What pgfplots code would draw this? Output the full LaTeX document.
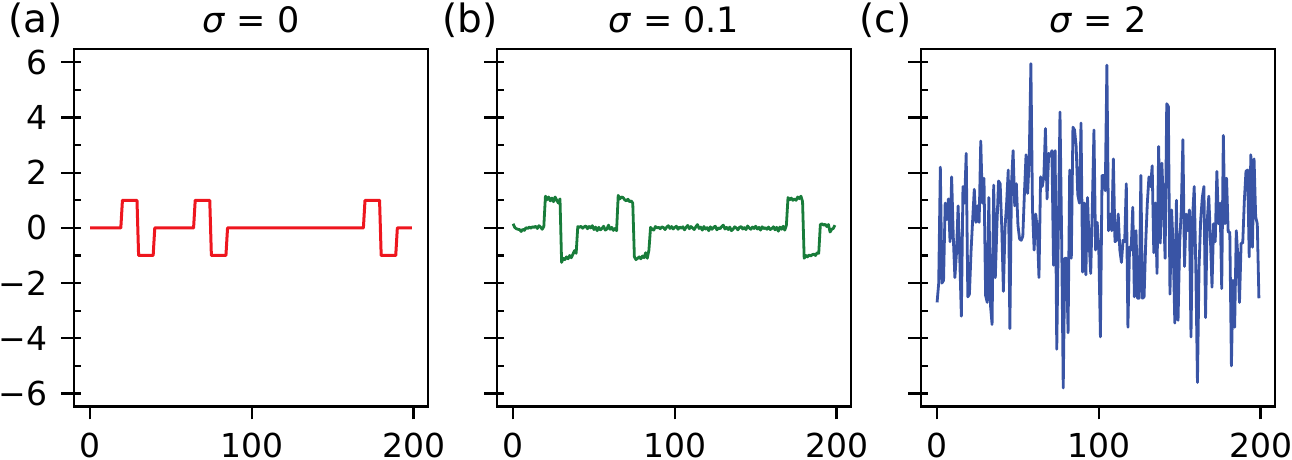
\documentclass[border=0pt]{standalone}
\usepackage{fontspec}
\setmainfont{DejaVu Sans}
\usepackage{pgfplots}
\pgfplotsset{compat=1.18}
\definecolor{cred}{RGB}{238,22,30}
\definecolor{cgreen}{RGB}{24,124,58}
\definecolor{cblue}{RGB}{57,84,165}
\pgfplotsset{
  panel/.style={
    scale only axis, width=177pt, height=178.8pt,
    xmin=-9.95, xmax=208.95, ymin=-6.48, ymax=6.48,
    axis line style={line width=1.2pt, black},
    tick pos=left, tick align=outside,
    major tick length=6.3pt,
    major tick style={line width=1.1pt, black},
    xtick={0,100,200}, xticklabels={0,100,200},
    ytick={-6,-4,-2,0,2,4,6},
    extra y ticks={-6,-5,-4,-3,-2,-1,0,1,2,3,4,5,6},
    extra y tick labels={},
    extra y tick style={tick align=inside, major tick length=3.6pt},
    tick label style={font=\fontsize{16.5pt}{16.5pt}\selectfont, inner sep=0pt},
    xticklabel style={yshift=-6.8pt},
    yticklabel style={xshift=-7pt},
    every axis plot/.append style={line width=1.5pt, line join=round},
  }
}
\begin{document}
\begin{tikzpicture}
\begin{axis}[panel, at={(37pt,26.65pt)}, anchor=south west,
  yticklabels={−6,−4,−2,0,2,4,6}]
\addplot[cred, no marks] coordinates {(0,0)(19,0)(20,1)(29,1)(30,-1)(39,-1)(40,0)(64,0)(65,1)(74,1)(75,-1)(84,-1)(85,0)(169,0)(170,1)(179,1)(180,-1)(189,-1)(190,0)(199,0)};
\end{axis}
\begin{axis}[panel, at={(248.5pt,26.65pt)}, anchor=south west,
  yticklabels={}]
\addplot[cgreen, no marks, line width=1.4pt] coordinates {
(0,0.15)(1,0.02)(2,-0.03)(3,-0.05)(4,-0.06)(5,-0.13)(6,-0.05)(7,-0.09)(8,0.01)(9,-0.02)
(10,0.03)(11,-0.01)(12,0.04)(13,0.02)(14,0.06)(15,-0.02)(16,0.08)(17,0.03)(18,-0.05)(19,0.05)
(20,1.15)(21,1.02)(22,1.12)(23,0.98)(24,1.08)(25,0.95)(26,1.12)(27,1.0)(28,0.9)(29,1.05)
(30,-1.25)(31,-1.1)(32,-1.15)(33,-1.05)(34,-1.12)(35,-1.0)(36,-1.08)(37,-0.95)(38,-0.82)(39,-0.92)
(40,0.05)(41,0.02)(42,0.06)(43,-0.01)(44,0.04)(45,0.07)(46,-0.03)(47,0.05)(48,0.0)(49,0.08)
(50,-0.06)(51,0.03)(52,-0.1)(53,0.02)(54,-0.07)(55,-0.02)(56,0.06)(57,-0.08)(58,-0.04)(59,0.1)
(60,-0.05)(61,0.02)(62,-0.09)(63,-0.02)(64,-0.1)(65,1.18)(66,1.05)(67,1.12)(68,1.1)(69,1.02)
(70,0.98)(71,1.04)(72,0.95)(73,0.98)(74,0.9)(75,-1.05)(76,-1.15)(77,-1.1)(78,-1.05)(79,-1.12)
(80,-1.02)(81,-1.08)(82,-0.9)(83,-1.1)(84,-0.8)(85,0.02)(86,-0.05)(87,-0.08)(88,0.05)(89,0.0)
(90,0.02)(91,-0.03)(92,0.04)(93,0.01)(94,-0.06)(95,0.03)(96,0.08)(97,-0.02)(98,0.05)(99,-0.04)
(100,0.02)(101,0.06)(102,-0.05)(103,0.03)(104,-0.01)(105,0.04)(106,-0.07)(107,0.02)(108,0.09)(109,-0.03)
(110,0.05)(111,0.0)(112,-0.06)(113,0.04)(114,0.12)(115,-0.02)(116,0.03)(117,-0.08)(118,0.05)(119,-0.04)
(120,0.01)(121,-0.1)(122,0.04)(123,-0.05)(124,0.02)(125,0.06)(126,-0.07)(127,0.0)(128,-0.03)(129,0.05)
(130,0.1)(131,-0.04)(132,0.02)(133,-0.06)(134,0.03)(135,-0.1)(136,-0.05)(137,0.04)(138,0.0)(139,-0.07)
(140,0.02)(141,0.05)(142,-0.04)(143,0.01)(144,-0.06)(145,0.07)(146,0.0)(147,-0.05)(148,0.03)(149,-0.02)
(150,0.06)(151,-0.04)(152,0.02)(153,-0.08)(154,0.04)(155,-0.03)(156,0.01)(157,-0.05)(158,0.03)(159,-0.06)
(160,-0.02)(161,0.04)(162,-0.07)(163,0.02)(164,-0.12)(165,0.03)(166,-0.05)(167,0.06)(168,-0.08)(169,0.1)
(170,1.1)(171,1.02)(172,1.08)(173,1.0)(174,1.05)(175,1.0)(176,1.12)(177,1.06)(178,1.15)(179,0.95)
(180,-1.1)(181,-1.0)(182,-1.05)(183,-0.98)(184,-1.02)(185,-0.97)(186,-0.95)(187,-1.0)(188,-0.9)(189,-0.92)
(190,0.12)(191,0.15)(192,0.1)(193,0.13)(194,0.05)(195,0.12)(196,-0.15)(197,-0.05)(198,-0.02)(199,0.1)};
\end{axis}
\begin{axis}[panel, at={(460.5pt,26.65pt)}, anchor=south west,
  yticklabels={}]
\addplot[cblue, no marks, line width=1.4pt] coordinates {
(0,-2.7)(1,-2.0)(2,2.2)(3,-2.0)(4,-1.9)(5,0.9)(6,0.3)(7,1.05)(8,-0.5)(9,1.85)
(10,-0.3)(11,-1.8)(12,-0.9)(13,0.8)(14,-1.05)(15,-3.2)(16,1.5)(17,0.9)(18,2.7)(19,-2.5)
(20,-2.4)(21,-0.85)(22,0.3)(23,1.4)(24,0.2)(25,0.8)(26,0.2)(27,3.15)(28,0.9)(29,1.8)
(30,-2.45)(31,-2.7)(32,1.1)(33,-2.8)(34,-3.5)(35,1.55)(36,-1.8)(37,0.1)(38,1.7)(39,1.6)
(40,0.0)(41,-2.3)(42,0.0)(43,0.9)(44,2.1)(45,-3.65)(46,1.6)(47,2.8)(48,0.8)(49,1.6)
(50,0.1)(51,-0.4)(52,-0.45)(53,-0.3)(54,1.25)(55,2.65)(56,1.25)(57,2.6)(58,5.95)(59,0.65)
(60,-0.8)(61,0.5)(62,-0.1)(63,-1.8)(64,1.85)(65,1.5)(66,1.85)(67,3.6)(68,1.05)(69,2.7)
(70,2.6)(71,2.8)(72,-1.35)(73,2.8)(74,-4.4)(75,0.0)(76,4.2)(77,-0.3)(78,-5.8)(79,-1.1)
(80,-1.1)(81,-3.8)(82,2.1)(83,-1.1)(84,3.65)(85,3.55)(86,2.95)(87,1.2)(88,0.9)(89,3.8)
(90,-1.6)(91,0.9)(92,-1.7)(93,1.1)(94,-0.5)(95,-1.65)(96,0.8)(97,3.55)(98,-0.8)(99,0.2)
(100,-0.8)(101,-3.95)(102,1.9)(103,1.9)(104,1.35)(105,5.9)(106,-0.1)(107,0.5)(108,-0.1)(109,2.5)
(110,-0.5)(111,-0.45)(112,0.5)(113,-0.8)(114,-1.25)(115,-0.45)(116,-0.5)(117,1.6)(118,-3.6)(119,-0.7)
(120,-0.8)(121,0.75)(122,-2.5)(123,-0.1)(124,-2.55)(125,-2.55)(126,1.9)(127,-2.55)(128,-2.5)(129,-0.55)
(130,0.9)(131,1.85)(132,1.5)(133,2.25)(134,-0.9)(135,0.9)(136,-1.65)(137,2.95)(138,-0.55)(139,2.35)
(140,0.75)(141,-1.1)(142,4.5)(143,4.4)(144,-2.4)(145,0.65)(146,-0.7)(147,-3.45)(148,1.0)(149,-3.35)
(150,-0.55)(151,0.65)(152,3.2)(153,-1.4)(154,0.5)(155,-0.1)(156,0.65)(157,-3.95)(158,0.4)(159,1.5)
(160,-1.5)(161,-5.6)(162,-1.4)(163,0.3)(164,1.1)(165,1.5)(166,-3.25)(167,0.2)(168,1.15)(169,-0.35)
(170,-2.15)(171,0.15)(172,-0.5)(173,2.05)(174,0.15)(175,0.9)(176,-2.2)(177,3.35)(178,0.15)(179,1.8)
(180,-0.15)(181,-0.15)(182,-5.0)(183,-1.9)(184,-3.6)(185,-0.1)(186,-1.05)(187,-2.7)(188,-0.55)(189,-0.55)
(190,1.0)(191,2.05)(192,2.1)(193,-1.05)(194,2.65)(195,-0.7)(196,2.5)(197,0.4)(198,0.15)(199,-2.55)};
\end{axis}
\node[anchor=base, inner sep=0pt, font=\fontsize{17.5pt}{17.5pt}\selectfont] at (125.5pt,213.7pt) {\textit{σ} = 0};
\node[anchor=base, inner sep=0pt, font=\fontsize{17.5pt}{17.5pt}\selectfont] at (337pt,213.7pt) {\textit{σ} = 0.1};
\node[anchor=base, inner sep=0pt, font=\fontsize{17.5pt}{17.5pt}\selectfont] at (549pt,213.7pt) {\textit{σ} = 2};
\node[anchor=base west, inner sep=0pt, font=\fontsize{19.5pt}{19.5pt}\selectfont] at (4pt,213.7pt) {(a)};
\node[anchor=base west, inner sep=0pt, font=\fontsize{19.5pt}{19.5pt}\selectfont] at (220.9pt,213.7pt) {(b)};
\node[anchor=base west, inner sep=0pt, font=\fontsize{19.5pt}{19.5pt}\selectfont] at (429.5pt,213.7pt) {(c)};
\pgfresetboundingbox
\path[use as bounding box] (0pt,0pt) rectangle (646pt,230pt);
\end{tikzpicture}
\end{document}
